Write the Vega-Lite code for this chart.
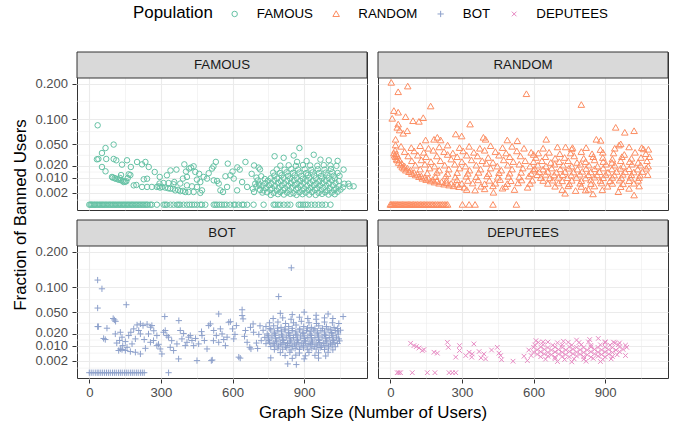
{
"$schema": "https://vega.github.io/schema/vega-lite/v6.json",
"background": "white",
"padding": {"left": 12, "top": 7, "right": 10, "bottom": 4},
"config": {
  "font": "Liberation Sans",
  "view": {"stroke": "#333333", "strokeWidth": 1},
  "legend": {"orient": "none", "legendX": 56, "legendY": -44.7, "direction": "horizontal", "titleOrient": "left", "titleFontSize": 16.9, "titleFontWeight": "normal", "titleColor": "#000000", "titlePadding": 15, "labelFontSize": 13.3, "labelColor": "#000000", "labelOffset": 15.5, "columnPadding": 16.5, "symbolStrokeWidth": 1, "symbolSize": 30}
},
"data": {"values": [
{"g":"FAMOUS","x":0,"y":0},{"g":"FAMOUS","x":5,"y":0},{"g":"FAMOUS","x":9,"y":0},{"g":"FAMOUS","x":14,"y":0},{"g":"FAMOUS","x":20,"y":0},{"g":"FAMOUS","x":24,"y":0},{"g":"FAMOUS","x":30,"y":0},{"g":"FAMOUS","x":35,"y":0},{"g":"FAMOUS","x":41,"y":0},{"g":"FAMOUS","x":46,"y":0},{"g":"FAMOUS","x":52,"y":0},{"g":"FAMOUS","x":57,"y":0},{"g":"FAMOUS","x":62,"y":0},{"g":"FAMOUS","x":68,"y":0},{"g":"FAMOUS","x":73,"y":0},{"g":"FAMOUS","x":79,"y":0},{"g":"FAMOUS","x":85,"y":0},{"g":"FAMOUS","x":90,"y":0},{"g":"FAMOUS","x":96,"y":0},{"g":"FAMOUS","x":101,"y":0},{"g":"FAMOUS","x":107,"y":0},{"g":"FAMOUS","x":112,"y":0},{"g":"FAMOUS","x":118,"y":0},{"g":"FAMOUS","x":124,"y":0},{"g":"FAMOUS","x":129,"y":0},{"g":"FAMOUS","x":135,"y":0},{"g":"FAMOUS","x":141,"y":0},{"g":"FAMOUS","x":146,"y":0},{"g":"FAMOUS","x":152,"y":0},{"g":"FAMOUS","x":158,"y":0},{"g":"FAMOUS","x":163,"y":0},{"g":"FAMOUS","x":169,"y":0},{"g":"FAMOUS","x":175,"y":0},{"g":"FAMOUS","x":180,"y":0},{"g":"FAMOUS","x":186,"y":0},{"g":"FAMOUS","x":192,"y":0},{"g":"FAMOUS","x":198,"y":0},{"g":"FAMOUS","x":204,"y":0},{"g":"FAMOUS","x":210,"y":0},{"g":"FAMOUS","x":216,"y":0},{"g":"FAMOUS","x":222,"y":0},{"g":"FAMOUS","x":228,"y":0},{"g":"FAMOUS","x":234,"y":0},{"g":"FAMOUS","x":240,"y":0},{"g":"FAMOUS","x":245,"y":0},{"g":"FAMOUS","x":255,"y":0},{"g":"FAMOUS","x":262,"y":0},{"g":"FAMOUS","x":283,"y":0},{"g":"FAMOUS","x":311,"y":0},{"g":"FAMOUS","x":318,"y":0},{"g":"FAMOUS","x":325,"y":0},{"g":"FAMOUS","x":340,"y":0},{"g":"FAMOUS","x":353,"y":0},{"g":"FAMOUS","x":367,"y":0},{"g":"FAMOUS","x":374,"y":0},{"g":"FAMOUS","x":381,"y":0},{"g":"FAMOUS","x":395,"y":0},{"g":"FAMOUS","x":409,"y":0},{"g":"FAMOUS","x":420,"y":0},{"g":"FAMOUS","x":430,"y":0},{"g":"FAMOUS","x":440,"y":0},{"g":"FAMOUS","x":451,"y":0},{"g":"FAMOUS","x":465,"y":0},{"g":"FAMOUS","x":472,"y":0},{"g":"FAMOUS","x":486,"y":0},{"g":"FAMOUS","x":521,"y":0},{"g":"FAMOUS","x":528,"y":0},{"g":"FAMOUS","x":535,"y":0},{"g":"FAMOUS","x":545,"y":0},{"g":"FAMOUS","x":555,"y":0},{"g":"FAMOUS","x":565,"y":0},{"g":"FAMOUS","x":575,"y":0},{"g":"FAMOUS","x":590,"y":0},{"g":"FAMOUS","x":605,"y":0},{"g":"FAMOUS","x":612,"y":0},{"g":"FAMOUS","x":625,"y":0},{"g":"FAMOUS","x":640,"y":0},{"g":"FAMOUS","x":647,"y":0},{"g":"FAMOUS","x":661,"y":0},{"g":"FAMOUS","x":688,"y":0},{"g":"FAMOUS","x":730,"y":0},{"g":"FAMOUS","x":772,"y":0},{"g":"FAMOUS","x":779,"y":0},{"g":"FAMOUS","x":790,"y":0},{"g":"FAMOUS","x":800,"y":0},{"g":"FAMOUS","x":815,"y":0},{"g":"FAMOUS","x":830,"y":0},{"g":"FAMOUS","x":842,"y":0},{"g":"FAMOUS","x":877,"y":0},{"g":"FAMOUS","x":885,"y":0},{"g":"FAMOUS","x":895,"y":0},{"g":"FAMOUS","x":905,"y":0},{"g":"FAMOUS","x":915,"y":0},{"g":"FAMOUS","x":930,"y":0},{"g":"FAMOUS","x":945,"y":0},{"g":"FAMOUS","x":960,"y":0},{"g":"FAMOUS","x":975,"y":0},{"g":"FAMOUS","x":989,"y":0},{"g":"FAMOUS","x":1010,"y":0},
{"g":"FAMOUS","x":35,"y":0.086},{"g":"FAMOUS","x":102,"y":0.0493},{"g":"FAMOUS","x":68,"y":0.0438},{"g":"FAMOUS","x":53,"y":0.0364},{"g":"FAMOUS","x":32,"y":0.0281},{"g":"FAMOUS","x":38,"y":0.0285},{"g":"FAMOUS","x":71,"y":0.0285},{"g":"FAMOUS","x":102,"y":0.0285},{"g":"FAMOUS","x":113,"y":0.0269},{"g":"FAMOUS","x":53,"y":0.0194},{"g":"FAMOUS","x":68,"y":0.0152},{"g":"FAMOUS","x":95,"y":0.0105},{"g":"FAMOUS","x":106,"y":0.0097},{"g":"FAMOUS","x":119,"y":0.0088},{"g":"FAMOUS","x":133,"y":0.0081},{"g":"FAMOUS","x":144,"y":0.007},{"g":"FAMOUS","x":155,"y":0.0075},{"g":"FAMOUS","x":161,"y":0.0097},{"g":"FAMOUS","x":137,"y":0.0219},{"g":"FAMOUS","x":158,"y":0.0269},{"g":"FAMOUS","x":174,"y":0.0194},{"g":"FAMOUS","x":200,"y":0.0249},{"g":"FAMOUS","x":165,"y":0.0126},{"g":"FAMOUS","x":172,"y":0.012},{"g":"FAMOUS","x":133,"y":0.012},{"g":"FAMOUS","x":186,"y":0.0051},{"g":"FAMOUS","x":197,"y":0.0053},{"g":"FAMOUS","x":249,"y":0.0194},{"g":"FAMOUS","x":228,"y":0.0088},{"g":"FAMOUS","x":242,"y":0.0092},{"g":"FAMOUS","x":221,"y":0.0043},{"g":"FAMOUS","x":242,"y":0.0043},{"g":"FAMOUS","x":98,"y":0.01},{"g":"FAMOUS","x":110,"y":0.0092},{"g":"FAMOUS","x":125,"y":0.0085},{"g":"FAMOUS","x":140,"y":0.0078},{"g":"FAMOUS","x":150,"y":0.0072},{"g":"FAMOUS","x":128,"y":0.0098},{"g":"FAMOUS","x":221,"y":0.0222},{"g":"FAMOUS","x":235,"y":0.0249},
{"g":"FAMOUS","x":262,"y":0.0043},{"g":"FAMOUS","x":283,"y":0.0043},{"g":"FAMOUS","x":297,"y":0.004},{"g":"FAMOUS","x":318,"y":0.004},{"g":"FAMOUS","x":339,"y":0.0035},{"g":"FAMOUS","x":360,"y":0.0028},{"g":"FAMOUS","x":381,"y":0.0025},{"g":"FAMOUS","x":402,"y":0.0022},{"g":"FAMOUS","x":416,"y":0.0022},{"g":"FAMOUS","x":437,"y":0.0022},{"g":"FAMOUS","x":465,"y":0.0019},{"g":"FAMOUS","x":350,"y":0.0035},{"g":"FAMOUS","x":372,"y":0.003},{"g":"FAMOUS","x":392,"y":0.0026},{"g":"FAMOUS","x":290,"y":0.0046},{"g":"FAMOUS","x":305,"y":0.0043},{"g":"FAMOUS","x":330,"y":0.0037},
{"g":"FAMOUS","x":295,"y":0.0105},{"g":"FAMOUS","x":325,"y":0.0118},{"g":"FAMOUS","x":332,"y":0.0064},{"g":"FAMOUS","x":356,"y":0.007},{"g":"FAMOUS","x":365,"y":0.0168},{"g":"FAMOUS","x":392,"y":0.0093},{"g":"FAMOUS","x":398,"y":0.0222},{"g":"FAMOUS","x":409,"y":0.0105},{"g":"FAMOUS","x":418,"y":0.0178},{"g":"FAMOUS","x":426,"y":0.0188},{"g":"FAMOUS","x":437,"y":0.0201},{"g":"FAMOUS","x":444,"y":0.0146},{"g":"FAMOUS","x":451,"y":0.0086},{"g":"FAMOUS","x":465,"y":0.007},{"g":"FAMOUS","x":472,"y":0.0028},{"g":"FAMOUS","x":479,"y":0.0105},{"g":"FAMOUS","x":493,"y":0.0093},{"g":"FAMOUS","x":514,"y":0.0178},{"g":"FAMOUS","x":521,"y":0.0081},{"g":"FAMOUS","x":535,"y":0.0077},{"g":"FAMOUS","x":542,"y":0.0061},{"g":"FAMOUS","x":549,"y":0.0028},{"g":"FAMOUS","x":560,"y":0.0022},{"g":"FAMOUS","x":577,"y":0.0043},{"g":"FAMOUS","x":591,"y":0.0118},{"g":"FAMOUS","x":605,"y":0.0093},{"g":"FAMOUS","x":619,"y":0.0028},{"g":"FAMOUS","x":630,"y":0.0168},{"g":"FAMOUS","x":640,"y":0.007},{"g":"FAMOUS","x":654,"y":0.0249},{"g":"FAMOUS","x":661,"y":0.0043},{"g":"FAMOUS","x":294,"y":0.0061},{"g":"FAMOUS","x":311,"y":0.0064},{"g":"FAMOUS","x":353,"y":0.0057},{"g":"FAMOUS","x":381,"y":0.0061},{"g":"FAMOUS","x":409,"y":0.0051},{"g":"FAMOUS","x":430,"y":0.0046},{"g":"FAMOUS","x":451,"y":0.0043},{"g":"FAMOUS","x":274,"y":0.0146},{"g":"FAMOUS","x":340,"y":0.016},{"g":"FAMOUS","x":460,"y":0.013},{"g":"FAMOUS","x":500,"y":0.0135},{"g":"FAMOUS","x":520,"y":0.02},{"g":"FAMOUS","x":570,"y":0.011},{"g":"FAMOUS","x":600,"y":0.015},{"g":"FAMOUS","x":620,"y":0.019},{"g":"FAMOUS","x":680,"y":0.013},{"g":"FAMOUS","x":690,"y":0.021},{"g":"FAMOUS","x":700,"y":0.01},{"g":"FAMOUS","x":710,"y":0.006},{"g":"FAMOUS","x":715,"y":0.017},{"g":"FAMOUS","x":530,"y":0.025},{"g":"FAMOUS","x":580,"y":0.023},{"g":"FAMOUS","x":405,"y":0.015},
{"g":"FAMOUS","x":760,"y":0.0013},{"g":"FAMOUS","x":790,"y":0.0015},{"g":"FAMOUS","x":815,"y":0.0014},{"g":"FAMOUS","x":842,"y":0.0016},{"g":"FAMOUS","x":868,"y":0.0013},{"g":"FAMOUS","x":893,"y":0.0015},{"g":"FAMOUS","x":921,"y":0.0014},{"g":"FAMOUS","x":948,"y":0.0013},{"g":"FAMOUS","x":975,"y":0.0016},{"g":"FAMOUS","x":1002,"y":0.0014},{"g":"FAMOUS","x":1028,"y":0.0015},
{"g":"FAMOUS","x":745,"y":0.0021},{"g":"FAMOUS","x":772,"y":0.0019},{"g":"FAMOUS","x":800,"y":0.0022},{"g":"FAMOUS","x":828,"y":0.002},{"g":"FAMOUS","x":855,"y":0.0018},{"g":"FAMOUS","x":880,"y":0.0021},{"g":"FAMOUS","x":906,"y":0.002},{"g":"FAMOUS","x":933,"y":0.0022},{"g":"FAMOUS","x":960,"y":0.0019},{"g":"FAMOUS","x":988,"y":0.0021},{"g":"FAMOUS","x":1015,"y":0.002},{"g":"FAMOUS","x":1040,"y":0.0023},
{"g":"FAMOUS","x":730,"y":0.0028},{"g":"FAMOUS","x":758,"y":0.003},{"g":"FAMOUS","x":785,"y":0.0027},{"g":"FAMOUS","x":812,"y":0.0029},{"g":"FAMOUS","x":838,"y":0.0028},{"g":"FAMOUS","x":866,"y":0.0031},{"g":"FAMOUS","x":892,"y":0.0027},{"g":"FAMOUS","x":918,"y":0.0029},{"g":"FAMOUS","x":945,"y":0.003},{"g":"FAMOUS","x":972,"y":0.0028},{"g":"FAMOUS","x":998,"y":0.0027},{"g":"FAMOUS","x":1025,"y":0.0029},{"g":"FAMOUS","x":1052,"y":0.0031},
{"g":"FAMOUS","x":740,"y":0.0038},{"g":"FAMOUS","x":766,"y":0.0036},{"g":"FAMOUS","x":793,"y":0.0039},{"g":"FAMOUS","x":820,"y":0.0037},{"g":"FAMOUS","x":848,"y":0.004},{"g":"FAMOUS","x":874,"y":0.0038},{"g":"FAMOUS","x":900,"y":0.0036},{"g":"FAMOUS","x":927,"y":0.0039},{"g":"FAMOUS","x":954,"y":0.0037},{"g":"FAMOUS","x":980,"y":0.004},{"g":"FAMOUS","x":1007,"y":0.0038},{"g":"FAMOUS","x":1034,"y":0.0036},{"g":"FAMOUS","x":1062,"y":0.0041},
{"g":"FAMOUS","x":726,"y":0.005},{"g":"FAMOUS","x":752,"y":0.0052},{"g":"FAMOUS","x":778,"y":0.0048},{"g":"FAMOUS","x":806,"y":0.0051},{"g":"FAMOUS","x":833,"y":0.0049},{"g":"FAMOUS","x":860,"y":0.0053},{"g":"FAMOUS","x":886,"y":0.005},{"g":"FAMOUS","x":913,"y":0.0048},{"g":"FAMOUS","x":940,"y":0.0052},{"g":"FAMOUS","x":966,"y":0.005},{"g":"FAMOUS","x":993,"y":0.0049},{"g":"FAMOUS","x":1020,"y":0.0051},{"g":"FAMOUS","x":1046,"y":0.0047},{"g":"FAMOUS","x":1090,"y":0.0046},
{"g":"FAMOUS","x":737,"y":0.0063},{"g":"FAMOUS","x":763,"y":0.0061},{"g":"FAMOUS","x":790,"y":0.0065},{"g":"FAMOUS","x":817,"y":0.0062},{"g":"FAMOUS","x":844,"y":0.0064},{"g":"FAMOUS","x":871,"y":0.006},{"g":"FAMOUS","x":897,"y":0.0066},{"g":"FAMOUS","x":924,"y":0.0063},{"g":"FAMOUS","x":951,"y":0.0061},{"g":"FAMOUS","x":977,"y":0.0064},{"g":"FAMOUS","x":1004,"y":0.0062},{"g":"FAMOUS","x":1031,"y":0.0065},{"g":"FAMOUS","x":1068,"y":0.006},
{"g":"FAMOUS","x":748,"y":0.0078},{"g":"FAMOUS","x":775,"y":0.008},{"g":"FAMOUS","x":802,"y":0.0076},{"g":"FAMOUS","x":829,"y":0.0079},{"g":"FAMOUS","x":856,"y":0.0081},{"g":"FAMOUS","x":883,"y":0.0077},{"g":"FAMOUS","x":910,"y":0.008},{"g":"FAMOUS","x":936,"y":0.0078},{"g":"FAMOUS","x":963,"y":0.0076},{"g":"FAMOUS","x":990,"y":0.0079},{"g":"FAMOUS","x":1016,"y":0.0081},{"g":"FAMOUS","x":1045,"y":0.0077},
{"g":"FAMOUS","x":760,"y":0.0095},{"g":"FAMOUS","x":787,"y":0.0093},{"g":"FAMOUS","x":814,"y":0.0097},{"g":"FAMOUS","x":841,"y":0.0094},{"g":"FAMOUS","x":868,"y":0.0096},{"g":"FAMOUS","x":894,"y":0.0092},{"g":"FAMOUS","x":921,"y":0.0098},{"g":"FAMOUS","x":948,"y":0.0095},{"g":"FAMOUS","x":975,"y":0.0093},{"g":"FAMOUS","x":1002,"y":0.0096},{"g":"FAMOUS","x":1028,"y":0.0094},
{"g":"FAMOUS","x":775,"y":0.0115},{"g":"FAMOUS","x":805,"y":0.0118},{"g":"FAMOUS","x":832,"y":0.0113},{"g":"FAMOUS","x":860,"y":0.0117},{"g":"FAMOUS","x":888,"y":0.0114},{"g":"FAMOUS","x":915,"y":0.0119},{"g":"FAMOUS","x":942,"y":0.0116},{"g":"FAMOUS","x":970,"y":0.0112},{"g":"FAMOUS","x":997,"y":0.0118},{"g":"FAMOUS","x":1024,"y":0.0115},{"g":"FAMOUS","x":1048,"y":0.0113},
{"g":"FAMOUS","x":770,"y":0.014},{"g":"FAMOUS","x":798,"y":0.0137},{"g":"FAMOUS","x":826,"y":0.0143},{"g":"FAMOUS","x":853,"y":0.0139},{"g":"FAMOUS","x":880,"y":0.0141},{"g":"FAMOUS","x":908,"y":0.0136},{"g":"FAMOUS","x":935,"y":0.0142},{"g":"FAMOUS","x":962,"y":0.0138},{"g":"FAMOUS","x":990,"y":0.014},{"g":"FAMOUS","x":1018,"y":0.0143},{"g":"FAMOUS","x":1040,"y":0.0137},
{"g":"FAMOUS","x":785,"y":0.017},{"g":"FAMOUS","x":818,"y":0.0167},{"g":"FAMOUS","x":846,"y":0.0173},{"g":"FAMOUS","x":874,"y":0.0169},{"g":"FAMOUS","x":902,"y":0.0172},{"g":"FAMOUS","x":930,"y":0.0166},{"g":"FAMOUS","x":957,"y":0.0171},{"g":"FAMOUS","x":985,"y":0.0168},{"g":"FAMOUS","x":1012,"y":0.0174},
{"g":"FAMOUS","x":800,"y":0.0208},{"g":"FAMOUS","x":835,"y":0.0212},{"g":"FAMOUS","x":865,"y":0.0205},{"g":"FAMOUS","x":895,"y":0.0215},{"g":"FAMOUS","x":925,"y":0.021},{"g":"FAMOUS","x":955,"y":0.0207},{"g":"FAMOUS","x":982,"y":0.0213},{"g":"FAMOUS","x":1010,"y":0.0209},{"g":"FAMOUS","x":1035,"y":0.0206},
{"g":"FAMOUS","x":776,"y":0.032},{"g":"FAMOUS","x":814,"y":0.03},{"g":"FAMOUS","x":856,"y":0.033},{"g":"FAMOUS","x":880,"y":0.0438},{"g":"FAMOUS","x":940,"y":0.034},{"g":"FAMOUS","x":968,"y":0.0277},{"g":"FAMOUS","x":1003,"y":0.0269},{"g":"FAMOUS","x":1040,"y":0.0262},{"g":"FAMOUS","x":1065,"y":0.0168},{"g":"FAMOUS","x":709,"y":0.0188},{"g":"FAMOUS","x":910,"y":0.026},{"g":"FAMOUS","x":870,"y":0.025},{"g":"FAMOUS","x":1085,"y":0.006},{"g":"FAMOUS","x":1107,"y":0.0046},{"g":"FAMOUS","x":720,"y":0.011},{"g":"FAMOUS","x":735,"y":0.009},{"g":"FAMOUS","x":700,"y":0.0045},{"g":"FAMOUS","x":715,"y":0.003},{"g":"FAMOUS","x":725,"y":0.002},{"g":"FAMOUS","x":685,"y":0.0035},{"g":"FAMOUS","x":695,"y":0.006},{"g":"FAMOUS","x":705,"y":0.008},{"g":"FAMOUS","x":690,"y":0.0022},{"g":"FAMOUS","x":712,"y":0.005},
{"g":"RANDOM","x":0,"y":0},{"g":"RANDOM","x":4,"y":0},{"g":"RANDOM","x":8,"y":0},{"g":"RANDOM","x":13,"y":0},{"g":"RANDOM","x":17,"y":0},{"g":"RANDOM","x":22,"y":0},{"g":"RANDOM","x":27,"y":0},{"g":"RANDOM","x":31,"y":0},{"g":"RANDOM","x":36,"y":0},{"g":"RANDOM","x":41,"y":0},{"g":"RANDOM","x":46,"y":0},{"g":"RANDOM","x":51,"y":0},{"g":"RANDOM","x":56,"y":0},{"g":"RANDOM","x":61,"y":0},{"g":"RANDOM","x":66,"y":0},{"g":"RANDOM","x":71,"y":0},{"g":"RANDOM","x":76,"y":0},{"g":"RANDOM","x":81,"y":0},{"g":"RANDOM","x":86,"y":0},{"g":"RANDOM","x":92,"y":0},{"g":"RANDOM","x":97,"y":0},{"g":"RANDOM","x":103,"y":0},{"g":"RANDOM","x":108,"y":0},{"g":"RANDOM","x":114,"y":0},{"g":"RANDOM","x":120,"y":0},{"g":"RANDOM","x":126,"y":0},{"g":"RANDOM","x":132,"y":0},{"g":"RANDOM","x":138,"y":0},{"g":"RANDOM","x":144,"y":0},{"g":"RANDOM","x":150,"y":0},{"g":"RANDOM","x":157,"y":0},{"g":"RANDOM","x":163,"y":0},{"g":"RANDOM","x":170,"y":0},{"g":"RANDOM","x":176,"y":0},{"g":"RANDOM","x":183,"y":0},{"g":"RANDOM","x":190,"y":0},{"g":"RANDOM","x":197,"y":0},{"g":"RANDOM","x":204,"y":0},{"g":"RANDOM","x":212,"y":0},{"g":"RANDOM","x":219,"y":0},{"g":"RANDOM","x":226,"y":0},{"g":"RANDOM","x":233,"y":0},{"g":"RANDOM","x":240,"y":0},{"g":"RANDOM","x":302,"y":0},{"g":"RANDOM","x":330,"y":0},{"g":"RANDOM","x":355,"y":0},{"g":"RANDOM","x":430,"y":0},{"g":"RANDOM","x":528,"y":0},
{"g":"RANDOM","x":4,"y":0.203},{"g":"RANDOM","x":33,"y":0.173},{"g":"RANDOM","x":73,"y":0.191},{"g":"RANDOM","x":570,"y":0.167},{"g":"RANDOM","x":800,"y":0.136},{"g":"RANDOM","x":169,"y":0.132},{"g":"RANDOM","x":15,"y":0.12},{"g":"RANDOM","x":33,"y":0.116},{"g":"RANDOM","x":8,"y":0.101},{"g":"RANDOM","x":64,"y":0.105},{"g":"RANDOM","x":95,"y":0.0955},{"g":"RANDOM","x":120,"y":0.094},{"g":"RANDOM","x":138,"y":0.1025},{"g":"RANDOM","x":33,"y":0.088},{"g":"RANDOM","x":29,"y":0.081},{"g":"RANDOM","x":39,"y":0.0755},{"g":"RANDOM","x":54,"y":0.069},{"g":"RANDOM","x":71,"y":0.074},{"g":"RANDOM","x":334,"y":0.088},{"g":"RANDOM","x":944,"y":0.081},{"g":"RANDOM","x":982,"y":0.0709},{"g":"RANDOM","x":1021,"y":0.074},{"g":"RANDOM","x":274,"y":0.0676},{"g":"RANDOM","x":299,"y":0.0638},{"g":"RANDOM","x":390,"y":0.0614},{"g":"RANDOM","x":399,"y":0.0578},{"g":"RANDOM","x":490,"y":0.0566},{"g":"RANDOM","x":532,"y":0.0553},{"g":"RANDOM","x":653,"y":0.0578},{"g":"RANDOM","x":22,"y":0.0578},{"g":"RANDOM","x":22,"y":0.0481},{"g":"RANDOM","x":197,"y":0.0614},{"g":"RANDOM","x":211,"y":0.0566},{"g":"RANDOM","x":183,"y":0.0578},{"g":"RANDOM","x":148,"y":0.0566},
{"g":"RANDOM","x":15,"y":0.036},{"g":"RANDOM","x":18,"y":0.033},{"g":"RANDOM","x":22,"y":0.031},{"g":"RANDOM","x":26,"y":0.028},{"g":"RANDOM","x":29,"y":0.0269},{"g":"RANDOM","x":35,"y":0.024},{"g":"RANDOM","x":43,"y":0.0212},{"g":"RANDOM","x":50,"y":0.019},{"g":"RANDOM","x":57,"y":0.0178},{"g":"RANDOM","x":65,"y":0.016},{"g":"RANDOM","x":78,"y":0.0146},{"g":"RANDOM","x":90,"y":0.013},{"g":"RANDOM","x":106,"y":0.0118},{"g":"RANDOM","x":120,"y":0.0105},{"g":"RANDOM","x":134,"y":0.0093},{"g":"RANDOM","x":150,"y":0.0084},{"g":"RANDOM","x":169,"y":0.0075},{"g":"RANDOM","x":185,"y":0.0068},{"g":"RANDOM","x":204,"y":0.0061},{"g":"RANDOM","x":225,"y":0.0056},{"g":"RANDOM","x":246,"y":0.0051},{"g":"RANDOM","x":265,"y":0.0047},{"g":"RANDOM","x":288,"y":0.0043},{"g":"RANDOM","x":310,"y":0.004},{"g":"RANDOM","x":20,"y":0.04},{"g":"RANDOM","x":25,"y":0.035},{"g":"RANDOM","x":30,"y":0.032},{"g":"RANDOM","x":38,"y":0.027},{"g":"RANDOM","x":48,"y":0.023},{"g":"RANDOM","x":60,"y":0.02},{"g":"RANDOM","x":72,"y":0.018},{"g":"RANDOM","x":85,"y":0.016},{"g":"RANDOM","x":100,"y":0.014},{"g":"RANDOM","x":115,"y":0.0125},{"g":"RANDOM","x":130,"y":0.011},{"g":"RANDOM","x":145,"y":0.01},{"g":"RANDOM","x":160,"y":0.0092},{"g":"RANDOM","x":178,"y":0.0085},{"g":"RANDOM","x":195,"y":0.0078},{"g":"RANDOM","x":215,"y":0.007},{"g":"RANDOM","x":235,"y":0.0064},{"g":"RANDOM","x":255,"y":0.006},{"g":"RANDOM","x":280,"y":0.0055},
{"g":"RANDOM","x":45,"y":0.046},{"g":"RANDOM","x":88,"y":0.044},{"g":"RANDOM","x":125,"y":0.047},{"g":"RANDOM","x":160,"y":0.043},{"g":"RANDOM","x":205,"y":0.045},{"g":"RANDOM","x":240,"y":0.048},{"g":"RANDOM","x":290,"y":0.044},{"g":"RANDOM","x":330,"y":0.046},{"g":"RANDOM","x":375,"y":0.043},{"g":"RANDOM","x":420,"y":0.047},{"g":"RANDOM","x":470,"y":0.044},{"g":"RANDOM","x":510,"y":0.046},{"g":"RANDOM","x":560,"y":0.043},
{"g":"RANDOM","x":60,"y":0.038},{"g":"RANDOM","x":100,"y":0.039},{"g":"RANDOM","x":140,"y":0.037},{"g":"RANDOM","x":180,"y":0.04},{"g":"RANDOM","x":225,"y":0.038},{"g":"RANDOM","x":262,"y":0.036},{"g":"RANDOM","x":305,"y":0.039},{"g":"RANDOM","x":350,"y":0.037},{"g":"RANDOM","x":395,"y":0.04},{"g":"RANDOM","x":440,"y":0.038},{"g":"RANDOM","x":485,"y":0.036},{"g":"RANDOM","x":530,"y":0.039},{"g":"RANDOM","x":590,"y":0.037},
{"g":"RANDOM","x":75,"y":0.032},{"g":"RANDOM","x":115,"y":0.033},{"g":"RANDOM","x":150,"y":0.031},{"g":"RANDOM","x":195,"y":0.032},{"g":"RANDOM","x":240,"y":0.034},{"g":"RANDOM","x":280,"y":0.031},{"g":"RANDOM","x":320,"y":0.033},{"g":"RANDOM","x":365,"y":0.032},{"g":"RANDOM","x":410,"y":0.03},{"g":"RANDOM","x":455,"y":0.033},{"g":"RANDOM","x":500,"y":0.031},{"g":"RANDOM","x":545,"y":0.032},{"g":"RANDOM","x":600,"y":0.034},
{"g":"RANDOM","x":90,"y":0.026},{"g":"RANDOM","x":130,"y":0.027},{"g":"RANDOM","x":170,"y":0.025},{"g":"RANDOM","x":210,"y":0.026},{"g":"RANDOM","x":255,"y":0.028},{"g":"RANDOM","x":300,"y":0.025},{"g":"RANDOM","x":340,"y":0.027},{"g":"RANDOM","x":385,"y":0.026},{"g":"RANDOM","x":430,"y":0.024},{"g":"RANDOM","x":475,"y":0.027},{"g":"RANDOM","x":515,"y":0.025},{"g":"RANDOM","x":565,"y":0.026},
{"g":"RANDOM","x":105,"y":0.021},{"g":"RANDOM","x":145,"y":0.022},{"g":"RANDOM","x":185,"y":0.02},{"g":"RANDOM","x":228,"y":0.021},{"g":"RANDOM","x":270,"y":0.022},{"g":"RANDOM","x":315,"y":0.02},{"g":"RANDOM","x":360,"y":0.021},{"g":"RANDOM","x":402,"y":0.023},{"g":"RANDOM","x":448,"y":0.02},{"g":"RANDOM","x":492,"y":0.021},{"g":"RANDOM","x":540,"y":0.022},{"g":"RANDOM","x":585,"y":0.02},
{"g":"RANDOM","x":125,"y":0.017},{"g":"RANDOM","x":165,"y":0.018},{"g":"RANDOM","x":205,"y":0.016},{"g":"RANDOM","x":245,"y":0.017},{"g":"RANDOM","x":290,"y":0.018},{"g":"RANDOM","x":332,"y":0.016},{"g":"RANDOM","x":378,"y":0.017},{"g":"RANDOM","x":420,"y":0.018},{"g":"RANDOM","x":465,"y":0.016},{"g":"RANDOM","x":510,"y":0.017},{"g":"RANDOM","x":555,"y":0.018},{"g":"RANDOM","x":600,"y":0.016},
{"g":"RANDOM","x":155,"y":0.0135},{"g":"RANDOM","x":195,"y":0.014},{"g":"RANDOM","x":240,"y":0.013},{"g":"RANDOM","x":280,"y":0.0138},{"g":"RANDOM","x":325,"y":0.0132},{"g":"RANDOM","x":370,"y":0.014},{"g":"RANDOM","x":412,"y":0.013},{"g":"RANDOM","x":455,"y":0.0137},{"g":"RANDOM","x":500,"y":0.0133},{"g":"RANDOM","x":548,"y":0.014},{"g":"RANDOM","x":590,"y":0.013},
{"g":"RANDOM","x":190,"y":0.0105},{"g":"RANDOM","x":232,"y":0.011},{"g":"RANDOM","x":272,"y":0.0102},{"g":"RANDOM","x":318,"y":0.0108},{"g":"RANDOM","x":360,"y":0.0104},{"g":"RANDOM","x":405,"y":0.011},{"g":"RANDOM","x":450,"y":0.0101},{"g":"RANDOM","x":495,"y":0.0107},{"g":"RANDOM","x":540,"y":0.0103},{"g":"RANDOM","x":580,"y":0.0109},
{"g":"RANDOM","x":235,"y":0.008},{"g":"RANDOM","x":280,"y":0.0083},{"g":"RANDOM","x":325,"y":0.0078},{"g":"RANDOM","x":368,"y":0.0082},{"g":"RANDOM","x":415,"y":0.0079},{"g":"RANDOM","x":460,"y":0.0084},{"g":"RANDOM","x":505,"y":0.0077},{"g":"RANDOM","x":550,"y":0.0081},{"g":"RANDOM","x":595,"y":0.008},
{"g":"RANDOM","x":300,"y":0.006},{"g":"RANDOM","x":345,"y":0.0062},{"g":"RANDOM","x":395,"y":0.0058},{"g":"RANDOM","x":440,"y":0.0061},{"g":"RANDOM","x":490,"y":0.0059},{"g":"RANDOM","x":535,"y":0.0063},{"g":"RANDOM","x":585,"y":0.006},{"g":"RANDOM","x":380,"y":0.0045},{"g":"RANDOM","x":430,"y":0.0047},{"g":"RANDOM","x":482,"y":0.0044},
{"g":"RANDOM","x":320,"y":0.003},{"g":"RANDOM","x":355,"y":0.0028},{"g":"RANDOM","x":395,"y":0.0033},{"g":"RANDOM","x":432,"y":0.002},{"g":"RANDOM","x":470,"y":0.0036},{"g":"RANDOM","x":520,"y":0.003},{"g":"RANDOM","x":575,"y":0.004},
{"g":"RANDOM","x":640,"y":0.043},{"g":"RANDOM","x":700,"y":0.045},{"g":"RANDOM","x":760,"y":0.042},{"g":"RANDOM","x":820,"y":0.044},{"g":"RANDOM","x":880,"y":0.041},{"g":"RANDOM","x":940,"y":0.043},{"g":"RANDOM","x":1000,"y":0.045},{"g":"RANDOM","x":1060,"y":0.042},{"g":"RANDOM","x":1081,"y":0.0414},
{"g":"RANDOM","x":620,"y":0.036},{"g":"RANDOM","x":665,"y":0.037},{"g":"RANDOM","x":710,"y":0.035},{"g":"RANDOM","x":755,"y":0.036},{"g":"RANDOM","x":800,"y":0.038},{"g":"RANDOM","x":845,"y":0.035},{"g":"RANDOM","x":890,"y":0.037},{"g":"RANDOM","x":935,"y":0.036},{"g":"RANDOM","x":980,"y":0.034},{"g":"RANDOM","x":1025,"y":0.037},{"g":"RANDOM","x":1070,"y":0.035},
{"g":"RANDOM","x":610,"y":0.03},{"g":"RANDOM","x":650,"y":0.031},{"g":"RANDOM","x":690,"y":0.029},{"g":"RANDOM","x":730,"y":0.03},{"g":"RANDOM","x":770,"y":0.032},{"g":"RANDOM","x":810,"y":0.029},{"g":"RANDOM","x":850,"y":0.031},{"g":"RANDOM","x":890,"y":0.03},{"g":"RANDOM","x":930,"y":0.028},{"g":"RANDOM","x":970,"y":0.031},{"g":"RANDOM","x":1010,"y":0.029},{"g":"RANDOM","x":1050,"y":0.03},{"g":"RANDOM","x":1085,"y":0.031},
{"g":"RANDOM","x":600,"y":0.025},{"g":"RANDOM","x":635,"y":0.026},{"g":"RANDOM","x":672,"y":0.024},{"g":"RANDOM","x":708,"y":0.025},{"g":"RANDOM","x":745,"y":0.026},{"g":"RANDOM","x":782,"y":0.024},{"g":"RANDOM","x":818,"y":0.025},{"g":"RANDOM","x":855,"y":0.027},{"g":"RANDOM","x":892,"y":0.025},{"g":"RANDOM","x":928,"y":0.024},{"g":"RANDOM","x":965,"y":0.026},{"g":"RANDOM","x":1002,"y":0.025},{"g":"RANDOM","x":1038,"y":0.024},{"g":"RANDOM","x":1075,"y":0.026},
{"g":"RANDOM","x":618,"y":0.021},{"g":"RANDOM","x":652,"y":0.02},{"g":"RANDOM","x":688,"y":0.022},{"g":"RANDOM","x":724,"y":0.021},{"g":"RANDOM","x":760,"y":0.02},{"g":"RANDOM","x":796,"y":0.022},{"g":"RANDOM","x":832,"y":0.021},{"g":"RANDOM","x":868,"y":0.02},{"g":"RANDOM","x":904,"y":0.022},{"g":"RANDOM","x":940,"y":0.021},{"g":"RANDOM","x":976,"y":0.02},{"g":"RANDOM","x":1012,"y":0.022},{"g":"RANDOM","x":1048,"y":0.021},{"g":"RANDOM","x":1080,"y":0.02},
{"g":"RANDOM","x":605,"y":0.0175},{"g":"RANDOM","x":640,"y":0.017},{"g":"RANDOM","x":676,"y":0.018},{"g":"RANDOM","x":712,"y":0.0172},{"g":"RANDOM","x":748,"y":0.0178},{"g":"RANDOM","x":784,"y":0.017},{"g":"RANDOM","x":820,"y":0.0176},{"g":"RANDOM","x":856,"y":0.0173},{"g":"RANDOM","x":892,"y":0.018},{"g":"RANDOM","x":928,"y":0.0171},{"g":"RANDOM","x":964,"y":0.0177},{"g":"RANDOM","x":1000,"y":0.0174},{"g":"RANDOM","x":1036,"y":0.017},{"g":"RANDOM","x":1072,"y":0.0178},
{"g":"RANDOM","x":625,"y":0.0145},{"g":"RANDOM","x":660,"y":0.0148},{"g":"RANDOM","x":696,"y":0.0142},{"g":"RANDOM","x":732,"y":0.0147},{"g":"RANDOM","x":768,"y":0.0143},{"g":"RANDOM","x":804,"y":0.0149},{"g":"RANDOM","x":840,"y":0.0144},{"g":"RANDOM","x":876,"y":0.0146},{"g":"RANDOM","x":912,"y":0.0141},{"g":"RANDOM","x":948,"y":0.0148},{"g":"RANDOM","x":984,"y":0.0145},{"g":"RANDOM","x":1020,"y":0.0143},{"g":"RANDOM","x":1056,"y":0.0147},
{"g":"RANDOM","x":615,"y":0.012},{"g":"RANDOM","x":650,"y":0.0123},{"g":"RANDOM","x":686,"y":0.0118},{"g":"RANDOM","x":722,"y":0.0121},{"g":"RANDOM","x":758,"y":0.0117},{"g":"RANDOM","x":794,"y":0.0124},{"g":"RANDOM","x":830,"y":0.012},{"g":"RANDOM","x":866,"y":0.0119},{"g":"RANDOM","x":902,"y":0.0122},{"g":"RANDOM","x":938,"y":0.0118},{"g":"RANDOM","x":974,"y":0.0123},{"g":"RANDOM","x":1010,"y":0.012},{"g":"RANDOM","x":1046,"y":0.0117},{"g":"RANDOM","x":1078,"y":0.0121},
{"g":"RANDOM","x":630,"y":0.0098},{"g":"RANDOM","x":668,"y":0.0096},{"g":"RANDOM","x":705,"y":0.01},{"g":"RANDOM","x":742,"y":0.0097},{"g":"RANDOM","x":780,"y":0.0099},{"g":"RANDOM","x":818,"y":0.0095},{"g":"RANDOM","x":855,"y":0.0101},{"g":"RANDOM","x":892,"y":0.0097},{"g":"RANDOM","x":930,"y":0.0099},{"g":"RANDOM","x":968,"y":0.0096},{"g":"RANDOM","x":1005,"y":0.01},{"g":"RANDOM","x":1042,"y":0.0098},
{"g":"RANDOM","x":640,"y":0.0078},{"g":"RANDOM","x":680,"y":0.008},{"g":"RANDOM","x":720,"y":0.0076},{"g":"RANDOM","x":760,"y":0.0079},{"g":"RANDOM","x":800,"y":0.0077},{"g":"RANDOM","x":840,"y":0.0081},{"g":"RANDOM","x":880,"y":0.0078},{"g":"RANDOM","x":920,"y":0.0076},{"g":"RANDOM","x":960,"y":0.008},{"g":"RANDOM","x":1000,"y":0.0077},{"g":"RANDOM","x":1038,"y":0.0079},
{"g":"RANDOM","x":660,"y":0.006},{"g":"RANDOM","x":705,"y":0.0062},{"g":"RANDOM","x":750,"y":0.0058},{"g":"RANDOM","x":795,"y":0.0061},{"g":"RANDOM","x":840,"y":0.0059},{"g":"RANDOM","x":885,"y":0.0062},{"g":"RANDOM","x":930,"y":0.006},{"g":"RANDOM","x":975,"y":0.0058},{"g":"RANDOM","x":1020,"y":0.0061},
{"g":"RANDOM","x":690,"y":0.0045},{"g":"RANDOM","x":745,"y":0.0047},{"g":"RANDOM","x":800,"y":0.0044},{"g":"RANDOM","x":855,"y":0.0046},{"g":"RANDOM","x":910,"y":0.0045},{"g":"RANDOM","x":965,"y":0.0043},{"g":"RANDOM","x":1042,"y":0.0046},
{"g":"RANDOM","x":720,"y":0.003},{"g":"RANDOM","x":776,"y":0.0026},{"g":"RANDOM","x":830,"y":0.0031},{"g":"RANDOM","x":888,"y":0.0029},{"g":"RANDOM","x":955,"y":0.0022},{"g":"RANDOM","x":1000,"y":0.0035},{"g":"RANDOM","x":732,"y":0.0017},{"g":"RANDOM","x":849,"y":0.0015},{"g":"RANDOM","x":1021,"y":0.0012},{"g":"RANDOM","x":818,"y":0.0028},
{"g":"RANDOM","x":863,"y":0.0578},{"g":"RANDOM","x":881,"y":0.056},{"g":"RANDOM","x":958,"y":0.048},{"g":"RANDOM","x":965,"y":0.05},{"g":"RANDOM","x":763,"y":0.044},{"g":"RANDOM","x":734,"y":0.045},{"g":"RANDOM","x":1053,"y":0.044},
{"g":"BOT","x":0,"y":0},{"g":"BOT","x":8,"y":0},{"g":"BOT","x":16,"y":0},{"g":"BOT","x":25,"y":0},{"g":"BOT","x":33,"y":0},{"g":"BOT","x":40,"y":0},{"g":"BOT","x":48,"y":0},{"g":"BOT","x":56,"y":0},{"g":"BOT","x":64,"y":0},{"g":"BOT","x":72,"y":0},{"g":"BOT","x":80,"y":0},{"g":"BOT","x":88,"y":0},{"g":"BOT","x":97,"y":0},{"g":"BOT","x":105,"y":0},{"g":"BOT","x":113,"y":0},{"g":"BOT","x":122,"y":0},{"g":"BOT","x":130,"y":0},{"g":"BOT","x":138,"y":0},{"g":"BOT","x":147,"y":0},{"g":"BOT","x":155,"y":0},{"g":"BOT","x":163,"y":0},{"g":"BOT","x":172,"y":0},{"g":"BOT","x":180,"y":0},{"g":"BOT","x":188,"y":0},{"g":"BOT","x":197,"y":0},{"g":"BOT","x":205,"y":0},{"g":"BOT","x":214,"y":0},{"g":"BOT","x":222,"y":0},{"g":"BOT","x":230,"y":0},{"g":"BOT","x":332,"y":0},
{"g":"BOT","x":846,"y":0.15},{"g":"BOT","x":35,"y":0.117},{"g":"BOT","x":53,"y":0.096},{"g":"BOT","x":793,"y":0.079},{"g":"BOT","x":155,"y":0.063},{"g":"BOT","x":35,"y":0.057},{"g":"BOT","x":542,"y":0.047},{"g":"BOT","x":1063,"y":0.043},{"g":"BOT","x":640,"y":0.054},{"g":"BOT","x":316,"y":0.043},{"g":"BOT","x":375,"y":0.037},{"g":"BOT","x":105,"y":0.038},{"g":"BOT","x":100,"y":0.04},{"g":"BOT","x":110,"y":0.036},{"g":"BOT","x":35,"y":0.029},{"g":"BOT","x":38,"y":0.029},{"g":"BOT","x":74,"y":0.027},{"g":"BOT","x":67,"y":0.015},{"g":"BOT","x":60,"y":0.016},{"g":"BOT","x":831,"y":0.00106},{"g":"BOT","x":867,"y":0.0009},{"g":"BOT","x":451,"y":0.002},{"g":"BOT","x":511,"y":0.002},{"g":"BOT","x":515,"y":0.0022},
{"g":"BOT","x":109,"y":0.0205},{"g":"BOT","x":130,"y":0.0223},{"g":"BOT","x":137,"y":0.0172},{"g":"BOT","x":127,"y":0.0141},{"g":"BOT","x":151,"y":0.0132},{"g":"BOT","x":165,"y":0.0188},{"g":"BOT","x":174,"y":0.0223},{"g":"BOT","x":186,"y":0.0262},{"g":"BOT","x":200,"y":0.0311},{"g":"BOT","x":214,"y":0.0325},{"g":"BOT","x":225,"y":0.0303},{"g":"BOT","x":242,"y":0.0321},{"g":"BOT","x":256,"y":0.0282},{"g":"BOT","x":262,"y":0.0303},{"g":"BOT","x":207,"y":0.0243},{"g":"BOT","x":214,"y":0.0205},{"g":"BOT","x":193,"y":0.0156},{"g":"BOT","x":179,"y":0.0113},{"g":"BOT","x":158,"y":0.0088},{"g":"BOT","x":137,"y":0.0073},{"g":"BOT","x":151,"y":0.0067},{"g":"BOT","x":172,"y":0.0061},{"g":"BOT","x":193,"y":0.0057},{"g":"BOT","x":214,"y":0.0048},{"g":"BOT","x":235,"y":0.0081},{"g":"BOT","x":256,"y":0.0126},{"g":"BOT","x":269,"y":0.0141},{"g":"BOT","x":283,"y":0.01},{"g":"BOT","x":297,"y":0.0077},{"g":"BOT","x":304,"y":0.0048},{"g":"BOT","x":311,"y":0.0223},{"g":"BOT","x":318,"y":0.0243},{"g":"BOT","x":325,"y":0.0188},{"g":"BOT","x":332,"y":0.0172},{"g":"BOT","x":339,"y":0.0088},{"g":"BOT","x":353,"y":0.0067},{"g":"BOT","x":367,"y":0.0113},{"g":"BOT","x":374,"y":0.0026},{"g":"BOT","x":381,"y":0.0243},{"g":"BOT","x":388,"y":0.0156},{"g":"BOT","x":402,"y":0.01},{"g":"BOT","x":409,"y":0.0126},{"g":"BOT","x":416,"y":0.0172},{"g":"BOT","x":423,"y":0.0188},{"g":"BOT","x":430,"y":0.0141},{"g":"BOT","x":437,"y":0.01},{"g":"BOT","x":458,"y":0.0113},{"g":"BOT","x":472,"y":0.0188},{"g":"BOT","x":482,"y":0.0141},{"g":"BOT","x":493,"y":0.0077},{"g":"BOT","x":500,"y":0.0303},{"g":"BOT","x":507,"y":0.0325},{"g":"BOT","x":521,"y":0.0243},{"g":"BOT","x":532,"y":0.0188},{"g":"BOT","x":542,"y":0.0126},{"g":"BOT","x":549,"y":0.0262},{"g":"BOT","x":556,"y":0.0205},{"g":"BOT","x":563,"y":0.015},{"g":"BOT","x":577,"y":0.0172},{"g":"BOT","x":584,"y":0.0347},{"g":"BOT","x":591,"y":0.0355},{"g":"BOT","x":600,"y":0.0262},{"g":"BOT","x":605,"y":0.0156},{"g":"BOT","x":616,"y":0.0303},{"g":"BOT","x":626,"y":0.0033},{"g":"BOT","x":632,"y":0.0029},{"g":"BOT","x":640,"y":0.0445},{"g":"BOT","x":644,"y":0.0395},{"g":"BOT","x":654,"y":0.0243},{"g":"BOT","x":661,"y":0.0126},{"g":"BOT","x":672,"y":0.0088},{"g":"BOT","x":677,"y":0.0077},{"g":"BOT","x":686,"y":0.0325},{"g":"BOT","x":688,"y":0.0223},{"g":"BOT","x":123,"y":0.0067},{"g":"BOT","x":130,"y":0.0077},{"g":"BOT","x":115,"y":0.012},{"g":"BOT","x":140,"y":0.01},{"g":"BOT","x":248,"y":0.0205},{"g":"BOT","x":283,"y":0.0188},{"g":"BOT","x":230,"y":0.015},{"g":"BOT","x":270,"y":0.024},{"g":"BOT","x":290,"y":0.011},{"g":"BOT","x":345,"y":0.014},{"g":"BOT","x":395,"y":0.021},{"g":"BOT","x":445,"y":0.016},{"g":"BOT","x":470,"y":0.023},{"g":"BOT","x":520,"y":0.014},{"g":"BOT","x":570,"y":0.01},{"g":"BOT","x":610,"y":0.02},{"g":"BOT","x":650,"y":0.018},{"g":"BOT","x":675,"y":0.028},
{"g":"BOT","x":800,"y":0.048},{"g":"BOT","x":850,"y":0.046},{"g":"BOT","x":900,"y":0.05},{"g":"BOT","x":950,"y":0.045},{"g":"BOT","x":1000,"y":0.047},
{"g":"BOT","x":770,"y":0.04},{"g":"BOT","x":810,"y":0.041},{"g":"BOT","x":845,"y":0.039},{"g":"BOT","x":880,"y":0.042},{"g":"BOT","x":915,"y":0.04},{"g":"BOT","x":950,"y":0.039},{"g":"BOT","x":985,"y":0.041},{"g":"BOT","x":1020,"y":0.04},
{"g":"BOT","x":755,"y":0.034},{"g":"BOT","x":790,"y":0.035},{"g":"BOT","x":822,"y":0.033},{"g":"BOT","x":855,"y":0.034},{"g":"BOT","x":888,"y":0.036},{"g":"BOT","x":920,"y":0.034},{"g":"BOT","x":952,"y":0.033},{"g":"BOT","x":985,"y":0.035},{"g":"BOT","x":1018,"y":0.034},{"g":"BOT","x":1045,"y":0.033},
{"g":"BOT","x":740,"y":0.029},{"g":"BOT","x":772,"y":0.03},{"g":"BOT","x":803,"y":0.028},{"g":"BOT","x":835,"y":0.029},{"g":"BOT","x":866,"y":0.031},{"g":"BOT","x":898,"y":0.029},{"g":"BOT","x":930,"y":0.028},{"g":"BOT","x":961,"y":0.03},{"g":"BOT","x":993,"y":0.029},{"g":"BOT","x":1025,"y":0.028},
{"g":"BOT","x":756,"y":0.0265},{"g":"BOT","x":788,"y":0.027},{"g":"BOT","x":819,"y":0.026},{"g":"BOT","x":850,"y":0.0268},{"g":"BOT","x":882,"y":0.0262},{"g":"BOT","x":914,"y":0.027},{"g":"BOT","x":945,"y":0.0264},{"g":"BOT","x":977,"y":0.0268},{"g":"BOT","x":1009,"y":0.026},{"g":"BOT","x":1040,"y":0.0266},
{"g":"BOT","x":728,"y":0.0245},{"g":"BOT","x":760,"y":0.025},{"g":"BOT","x":790,"y":0.024},{"g":"BOT","x":820,"y":0.0248},{"g":"BOT","x":850,"y":0.0242},{"g":"BOT","x":880,"y":0.025},{"g":"BOT","x":910,"y":0.0244},{"g":"BOT","x":940,"y":0.0247},{"g":"BOT","x":970,"y":0.0241},{"g":"BOT","x":1000,"y":0.0249},{"g":"BOT","x":1030,"y":0.0243},{"g":"BOT","x":1052,"y":0.0246},
{"g":"BOT","x":775,"y":0.0225},{"g":"BOT","x":805,"y":0.0228},{"g":"BOT","x":835,"y":0.0222},{"g":"BOT","x":865,"y":0.0227},{"g":"BOT","x":895,"y":0.0223},{"g":"BOT","x":925,"y":0.0229},{"g":"BOT","x":955,"y":0.0224},{"g":"BOT","x":985,"y":0.0226},{"g":"BOT","x":1015,"y":0.0221},{"g":"BOT","x":1042,"y":0.0227},
{"g":"BOT","x":745,"y":0.0205},{"g":"BOT","x":775,"y":0.0207},{"g":"BOT","x":805,"y":0.0202},{"g":"BOT","x":835,"y":0.0206},{"g":"BOT","x":865,"y":0.0203},{"g":"BOT","x":895,"y":0.0208},{"g":"BOT","x":925,"y":0.0204},{"g":"BOT","x":955,"y":0.0206},{"g":"BOT","x":985,"y":0.0202},{"g":"BOT","x":1015,"y":0.0207},{"g":"BOT","x":1042,"y":0.0203},
{"g":"BOT","x":750,"y":0.0187},{"g":"BOT","x":780,"y":0.019},{"g":"BOT","x":810,"y":0.0185},{"g":"BOT","x":840,"y":0.0188},{"g":"BOT","x":870,"y":0.0191},{"g":"BOT","x":900,"y":0.0186},{"g":"BOT","x":930,"y":0.0189},{"g":"BOT","x":960,"y":0.0185},{"g":"BOT","x":990,"y":0.019},{"g":"BOT","x":1020,"y":0.0187},
{"g":"BOT","x":735,"y":0.017},{"g":"BOT","x":765,"y":0.0172},{"g":"BOT","x":795,"y":0.0168},{"g":"BOT","x":825,"y":0.0171},{"g":"BOT","x":855,"y":0.0169},{"g":"BOT","x":885,"y":0.0173},{"g":"BOT","x":915,"y":0.017},{"g":"BOT","x":945,"y":0.0168},{"g":"BOT","x":975,"y":0.0172},{"g":"BOT","x":1005,"y":0.0169},{"g":"BOT","x":1035,"y":0.0171},
{"g":"BOT","x":750,"y":0.0155},{"g":"BOT","x":780,"y":0.0157},{"g":"BOT","x":810,"y":0.0153},{"g":"BOT","x":840,"y":0.0156},{"g":"BOT","x":870,"y":0.0154},{"g":"BOT","x":900,"y":0.0158},{"g":"BOT","x":930,"y":0.0155},{"g":"BOT","x":960,"y":0.0153},{"g":"BOT","x":990,"y":0.0157},{"g":"BOT","x":1020,"y":0.0154},{"g":"BOT","x":1045,"y":0.0156},
{"g":"BOT","x":720,"y":0.014},{"g":"BOT","x":752,"y":0.0142},{"g":"BOT","x":782,"y":0.0138},{"g":"BOT","x":812,"y":0.0141},{"g":"BOT","x":842,"y":0.0139},{"g":"BOT","x":872,"y":0.0143},{"g":"BOT","x":902,"y":0.014},{"g":"BOT","x":932,"y":0.0138},{"g":"BOT","x":962,"y":0.0142},{"g":"BOT","x":992,"y":0.0139},{"g":"BOT","x":1022,"y":0.0141},{"g":"BOT","x":1048,"y":0.0138},
{"g":"BOT","x":755,"y":0.0127},{"g":"BOT","x":785,"y":0.0129},{"g":"BOT","x":815,"y":0.0125},{"g":"BOT","x":845,"y":0.0128},{"g":"BOT","x":875,"y":0.0126},{"g":"BOT","x":905,"y":0.013},{"g":"BOT","x":935,"y":0.0127},{"g":"BOT","x":965,"y":0.0125},{"g":"BOT","x":995,"y":0.0129},{"g":"BOT","x":1025,"y":0.0126},
{"g":"BOT","x":740,"y":0.0115},{"g":"BOT","x":770,"y":0.0117},{"g":"BOT","x":800,"y":0.0113},{"g":"BOT","x":830,"y":0.0116},{"g":"BOT","x":860,"y":0.0114},{"g":"BOT","x":890,"y":0.0118},{"g":"BOT","x":920,"y":0.0115},{"g":"BOT","x":950,"y":0.0113},{"g":"BOT","x":980,"y":0.0117},{"g":"BOT","x":1010,"y":0.0114},{"g":"BOT","x":1040,"y":0.0116},
{"g":"BOT","x":775,"y":0.0104},{"g":"BOT","x":807,"y":0.0106},{"g":"BOT","x":837,"y":0.0102},{"g":"BOT","x":867,"y":0.0105},{"g":"BOT","x":897,"y":0.0103},{"g":"BOT","x":927,"y":0.0107},{"g":"BOT","x":957,"y":0.0104},{"g":"BOT","x":987,"y":0.0102},{"g":"BOT","x":1017,"y":0.0106},
{"g":"BOT","x":760,"y":0.0093},{"g":"BOT","x":792,"y":0.0095},{"g":"BOT","x":822,"y":0.0091},{"g":"BOT","x":852,"y":0.0094},{"g":"BOT","x":882,"y":0.0092},{"g":"BOT","x":912,"y":0.0096},{"g":"BOT","x":942,"y":0.0093},{"g":"BOT","x":972,"y":0.0091},{"g":"BOT","x":1002,"y":0.0095},{"g":"BOT","x":1030,"y":0.0092},
{"g":"BOT","x":790,"y":0.0083},{"g":"BOT","x":827,"y":0.0085},{"g":"BOT","x":862,"y":0.0081},{"g":"BOT","x":897,"y":0.0084},{"g":"BOT","x":932,"y":0.0082},{"g":"BOT","x":967,"y":0.0086},{"g":"BOT","x":1002,"y":0.0083},
{"g":"BOT","x":775,"y":0.0073},{"g":"BOT","x":810,"y":0.0075},{"g":"BOT","x":845,"y":0.0071},{"g":"BOT","x":880,"y":0.0074},{"g":"BOT","x":915,"y":0.0072},{"g":"BOT","x":950,"y":0.0076},{"g":"BOT","x":985,"y":0.0073},{"g":"BOT","x":1020,"y":0.0071},
{"g":"BOT","x":800,"y":0.0055},{"g":"BOT","x":840,"y":0.0057},{"g":"BOT","x":880,"y":0.0053},{"g":"BOT","x":920,"y":0.0056},{"g":"BOT","x":960,"y":0.0054},{"g":"BOT","x":1000,"y":0.0057},
{"g":"BOT","x":820,"y":0.004},{"g":"BOT","x":865,"y":0.0042},{"g":"BOT","x":905,"y":0.0039},{"g":"BOT","x":945,"y":0.0041},{"g":"BOT","x":990,"y":0.0038},{"g":"BOT","x":850,"y":0.0028},{"g":"BOT","x":900,"y":0.0026},{"g":"BOT","x":960,"y":0.0029},
{"g":"BOT","x":760,"y":0.003},{"g":"BOT","x":700,"y":0.012},{"g":"BOT","x":710,"y":0.02},{"g":"BOT","x":715,"y":0.03},{"g":"BOT","x":705,"y":0.008},
{"g":"DEPUTEES","x":29,"y":0},{"g":"DEPUTEES","x":36,"y":0},{"g":"DEPUTEES","x":43,"y":0},{"g":"DEPUTEES","x":92,"y":0},{"g":"DEPUTEES","x":155,"y":0},{"g":"DEPUTEES","x":187,"y":0},{"g":"DEPUTEES","x":246,"y":0},{"g":"DEPUTEES","x":260,"y":0},{"g":"DEPUTEES","x":274,"y":0},
{"g":"DEPUTEES","x":85,"y":0.0118},{"g":"DEPUTEES","x":99,"y":0.01},{"g":"DEPUTEES","x":109,"y":0.0093},{"g":"DEPUTEES","x":120,"y":0.0083},{"g":"DEPUTEES","x":134,"y":0.0067},{"g":"DEPUTEES","x":141,"y":0.0073},{"g":"DEPUTEES","x":183,"y":0.0057},{"g":"DEPUTEES","x":197,"y":0.0052},{"g":"DEPUTEES","x":239,"y":0.0126},{"g":"DEPUTEES","x":243,"y":0.0088},{"g":"DEPUTEES","x":274,"y":0.0033},{"g":"DEPUTEES","x":290,"y":0.01},{"g":"DEPUTEES","x":290,"y":0.0067},{"g":"DEPUTEES","x":330,"y":0.0057},{"g":"DEPUTEES","x":341,"y":0.0033},{"g":"DEPUTEES","x":350,"y":0.0113},{"g":"DEPUTEES","x":316,"y":0.004},{"g":"DEPUTEES","x":343,"y":0.0048},{"g":"DEPUTEES","x":392,"y":0.0048},{"g":"DEPUTEES","x":399,"y":0.0026},{"g":"DEPUTEES","x":424,"y":0.007},{"g":"DEPUTEES","x":448,"y":0.0088},{"g":"DEPUTEES","x":462,"y":0.004},{"g":"DEPUTEES","x":466,"y":0.0023},{"g":"DEPUTEES","x":514,"y":0.0018},{"g":"DEPUTEES","x":560,"y":0.0037},{"g":"DEPUTEES","x":574,"y":0.002},{"g":"DEPUTEES","x":372,"y":0.0061},{"g":"DEPUTEES","x":380,"y":0.003},{"g":"DEPUTEES","x":455,"y":0.0052},{"g":"DEPUTEES","x":590,"y":0.004},{"g":"DEPUTEES","x":580,"y":0.007},
{"g":"DEPUTEES","x":620,"y":0.0125},{"g":"DEPUTEES","x":660,"y":0.0128},{"g":"DEPUTEES","x":700,"y":0.0122},{"g":"DEPUTEES","x":745,"y":0.0126},{"g":"DEPUTEES","x":790,"y":0.0124},{"g":"DEPUTEES","x":830,"y":0.0129},{"g":"DEPUTEES","x":871,"y":0.016},{"g":"DEPUTEES","x":900,"y":0.0123},{"g":"DEPUTEES","x":935,"y":0.0127},{"g":"DEPUTEES","x":960,"y":0.0121},
{"g":"DEPUTEES","x":605,"y":0.0105},{"g":"DEPUTEES","x":640,"y":0.0107},{"g":"DEPUTEES","x":680,"y":0.0103},{"g":"DEPUTEES","x":720,"y":0.0106},{"g":"DEPUTEES","x":760,"y":0.0104},{"g":"DEPUTEES","x":800,"y":0.0108},{"g":"DEPUTEES","x":840,"y":0.0102},{"g":"DEPUTEES","x":880,"y":0.0106},{"g":"DEPUTEES","x":920,"y":0.0104},{"g":"DEPUTEES","x":955,"y":0.0107},{"g":"DEPUTEES","x":985,"y":0.0103},
{"g":"DEPUTEES","x":600,"y":0.0088},{"g":"DEPUTEES","x":630,"y":0.009},{"g":"DEPUTEES","x":660,"y":0.0086},{"g":"DEPUTEES","x":690,"y":0.0089},{"g":"DEPUTEES","x":720,"y":0.0087},{"g":"DEPUTEES","x":750,"y":0.0091},{"g":"DEPUTEES","x":780,"y":0.0088},{"g":"DEPUTEES","x":810,"y":0.0086},{"g":"DEPUTEES","x":840,"y":0.009},{"g":"DEPUTEES","x":870,"y":0.0087},{"g":"DEPUTEES","x":900,"y":0.0089},{"g":"DEPUTEES","x":930,"y":0.0086},{"g":"DEPUTEES","x":960,"y":0.009},{"g":"DEPUTEES","x":990,"y":0.0088},
{"g":"DEPUTEES","x":615,"y":0.0072},{"g":"DEPUTEES","x":645,"y":0.0074},{"g":"DEPUTEES","x":675,"y":0.007},{"g":"DEPUTEES","x":705,"y":0.0073},{"g":"DEPUTEES","x":735,"y":0.0071},{"g":"DEPUTEES","x":765,"y":0.0075},{"g":"DEPUTEES","x":795,"y":0.0072},{"g":"DEPUTEES","x":825,"y":0.007},{"g":"DEPUTEES","x":855,"y":0.0074},{"g":"DEPUTEES","x":885,"y":0.0071},{"g":"DEPUTEES","x":915,"y":0.0073},{"g":"DEPUTEES","x":945,"y":0.007},{"g":"DEPUTEES","x":975,"y":0.0074},
{"g":"DEPUTEES","x":600,"y":0.0058},{"g":"DEPUTEES","x":630,"y":0.006},{"g":"DEPUTEES","x":660,"y":0.0056},{"g":"DEPUTEES","x":690,"y":0.0059},{"g":"DEPUTEES","x":720,"y":0.0057},{"g":"DEPUTEES","x":750,"y":0.0061},{"g":"DEPUTEES","x":780,"y":0.0058},{"g":"DEPUTEES","x":810,"y":0.0056},{"g":"DEPUTEES","x":840,"y":0.006},{"g":"DEPUTEES","x":870,"y":0.0057},{"g":"DEPUTEES","x":900,"y":0.0059},{"g":"DEPUTEES","x":930,"y":0.0056},{"g":"DEPUTEES","x":960,"y":0.006},
{"g":"DEPUTEES","x":615,"y":0.0046},{"g":"DEPUTEES","x":645,"y":0.0048},{"g":"DEPUTEES","x":675,"y":0.0044},{"g":"DEPUTEES","x":705,"y":0.0047},{"g":"DEPUTEES","x":735,"y":0.0045},{"g":"DEPUTEES","x":765,"y":0.0049},{"g":"DEPUTEES","x":795,"y":0.0046},{"g":"DEPUTEES","x":825,"y":0.0044},{"g":"DEPUTEES","x":855,"y":0.0048},{"g":"DEPUTEES","x":885,"y":0.0045},{"g":"DEPUTEES","x":915,"y":0.0047},{"g":"DEPUTEES","x":950,"y":0.0044},{"g":"DEPUTEES","x":985,"y":0.004},
{"g":"DEPUTEES","x":630,"y":0.0035},{"g":"DEPUTEES","x":660,"y":0.0037},{"g":"DEPUTEES","x":690,"y":0.0033},{"g":"DEPUTEES","x":720,"y":0.0036},{"g":"DEPUTEES","x":750,"y":0.0034},{"g":"DEPUTEES","x":780,"y":0.0038},{"g":"DEPUTEES","x":810,"y":0.0035},{"g":"DEPUTEES","x":840,"y":0.0033},{"g":"DEPUTEES","x":870,"y":0.0037},{"g":"DEPUTEES","x":900,"y":0.0034},{"g":"DEPUTEES","x":930,"y":0.0036},
{"g":"DEPUTEES","x":650,"y":0.0025},{"g":"DEPUTEES","x":690,"y":0.0027},{"g":"DEPUTEES","x":730,"y":0.0024},{"g":"DEPUTEES","x":770,"y":0.0026},{"g":"DEPUTEES","x":810,"y":0.0025},{"g":"DEPUTEES","x":850,"y":0.0028},{"g":"DEPUTEES","x":890,"y":0.0024},{"g":"DEPUTEES","x":925,"y":0.0026},
{"g":"DEPUTEES","x":700,"y":0.0017},{"g":"DEPUTEES","x":760,"y":0.0016},{"g":"DEPUTEES","x":820,"y":0.0018},{"g":"DEPUTEES","x":880,"y":0.0017},
{"g":"DEPUTEES","x":610,"y":0.014},{"g":"DEPUTEES","x":640,"y":0.013},{"g":"DEPUTEES","x":725,"y":0.0135},{"g":"DEPUTEES","x":780,"y":0.0145},{"g":"DEPUTEES","x":835,"y":0.015},{"g":"DEPUTEES","x":900,"y":0.013},{"g":"DEPUTEES","x":940,"y":0.012}
]},
"transform": [
  {"lookup": "g", "from": {"data": {"values": [{"g": "FAMOUS", "r": "a", "c": "a"}, {"g": "RANDOM", "r": "a", "c": "b"}, {"g": "BOT", "r": "b", "c": "a"}, {"g": "DEPUTEES", "r": "b", "c": "b"}]}, "key": "g", "fields": ["r", "c"]}}
],
"facet": {
  "row": {"field": "r", "type": "nominal", "header": {"title": "Fraction of Banned Users", "titleOrient": "left", "labels": false, "titleFontSize": 16.9, "titleFontWeight": "normal", "titleColor": "#000000", "titlePadding": -6}},
  "column": {"field": "c", "type": "nominal", "header": {"title": "Graph Size (Number of Users)", "titleOrient": "bottom", "labels": false, "titleFontSize": 16.9, "titleFontWeight": "normal", "titleColor": "#000000", "titlePadding": -4}}
},
"spacing": {"row": 8, "column": 9},
"spec": {
  "width": 290,
  "height": 158,
  "layer": [
    {"transform": [{"aggregate": [{"op": "count", "as": "k"}], "groupby": ["g"]}], "mark": {"type": "rule", "color": "#EBEBEB", "strokeWidth": 0.55}, "encoding": {"y": {"datum": 0.000289}}},
    {"transform": [{"aggregate": [{"op": "count", "as": "k"}], "groupby": ["g"]}], "mark": {"type": "rule", "color": "#EBEBEB", "strokeWidth": 0.55}, "encoding": {"y": {"datum": 0.00524}}},
    {"transform": [{"aggregate": [{"op": "count", "as": "k"}], "groupby": ["g"]}], "mark": {"type": "rule", "color": "#EBEBEB", "strokeWidth": 0.55}, "encoding": {"y": {"datum": 0.01457}}},
    {"transform": [{"aggregate": [{"op": "count", "as": "k"}], "groupby": ["g"]}], "mark": {"type": "rule", "color": "#EBEBEB", "strokeWidth": 0.55}, "encoding": {"y": {"datum": 0.0333}}},
    {"transform": [{"aggregate": [{"op": "count", "as": "k"}], "groupby": ["g"]}], "mark": {"type": "rule", "color": "#EBEBEB", "strokeWidth": 0.55}, "encoding": {"y": {"datum": 0.0729}}},
    {"transform": [{"aggregate": [{"op": "count", "as": "k"}], "groupby": ["g"]}], "mark": {"type": "rule", "color": "#EBEBEB", "strokeWidth": 0.55}, "encoding": {"y": {"datum": 0.1457}}},
    {
      "mark": {"type": "point", "filled": false, "strokeWidth": 1, "opacity": 1, "size": 30},
      "encoding": {
        "x": {"field": "x", "type": "quantitative",
              "scale": {"domain": [-51.5, 1163], "nice": false, "zero": false},
              "axis": {"title": null, "values": [0, 150, 300, 450, 600, 750, 900, 1050], "tickCount": 20,
                       "labelExpr": "datum.value % 300 === 0 ? datum.label : ''",
                       "domain": false, "grid": true, "gridColor": "#EBEBEB",
                       "gridWidth": {"condition": {"test": "datum.value % 300 !== 0", "value": 0.55}, "value": 1.1},
                       "tickColor": "#333333", "tickSize": 4, "tickWidth": 1,
                       "tickOpacity": {"condition": {"test": "datum.value % 300 !== 0", "value": 0}, "value": 1},
                       "labelColor": "#4D4D4D", "labelFontSize": 13.2, "labelPadding": 3, "labelFlush": false, "labelOverlap": false}},
        "y": {"field": "y", "type": "quantitative",
              "scale": {"type": "sqrt", "domain": [-0.000383, 0.318], "nice": false, "zero": false},
              "axis": {"title": null, "values": [0.002, 0.01, 0.02, 0.05, 0.1, 0.2], "tickCount": 20, "format": ".3f",
                       "domain": false, "grid": true, "gridColor": "#EBEBEB", "gridWidth": 1.1,
                       "tickColor": "#333333", "tickSize": 4, "tickWidth": 1,
                       "labelColor": "#4D4D4D", "labelFontSize": 13, "labelPadding": 4.5, "labelFlush": false, "labelOverlap": false,
                       "labelOffset": {"condition": {"test": "datum.value > 0.015 && datum.value < 0.03", "value": -2.2}, "value": 0}}},
        "color": {"field": "g", "type": "nominal", "title": "Population",
                  "scale": {"domain": ["FAMOUS", "RANDOM", "BOT", "DEPUTEES"], "range": ["#66C2A5", "#FC8D62", "#8DA0CB", "#E78AC3"]}},
        "shape": {"field": "g", "type": "nominal", "title": "Population",
                  "scale": {"domain": ["FAMOUS", "RANDOM", "BOT", "DEPUTEES"], "range": ["circle", "M0,-1.15L1.2,0.92L-1.2,0.92Z", "M-1.15,0H1.15M0,-1.15V1.15", "M-0.85,-0.85L0.85,0.85M-0.85,0.85L0.85,-0.85"]}}
      }
    },
    {
      "transform": [{"aggregate": [{"op": "count", "as": "k"}], "groupby": ["g"]}],
      "mark": {"type": "rect", "fill": "#D9D9D9", "stroke": "#333333", "strokeWidth": 1},
      "encoding": {"x": {"datum": -51.5}, "x2": {"datum": 1163}, "y": {"datum": 0.2189}, "y2": {"datum": 0.318}}
    },
    {
      "transform": [{"aggregate": [{"op": "count", "as": "k"}], "groupby": ["g"]}],
      "mark": {"type": "text", "fontSize": 13.3, "color": "#1A1A1A", "baseline": "middle", "align": "center"},
      "encoding": {"text": {"field": "g"}, "x": {"datum": 555.75}, "y": {"datum": 0.2662}}
    }
  ]
}
}
